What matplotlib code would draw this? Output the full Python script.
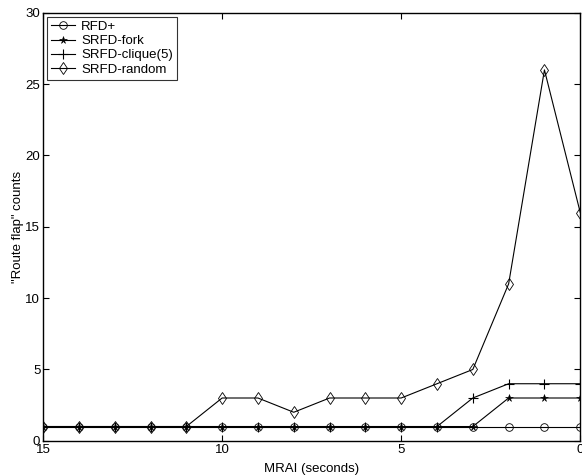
import matplotlib
matplotlib.use("Agg")
import matplotlib.pyplot as plt

plt.rcParams['font.family'] = ['Liberation Sans', 'DejaVu Sans']

# MRAI values (seconds)
mrai = [15, 14, 13, 12, 11, 10, 9, 8, 7, 6, 5, 4, 3, 2, 1, 0]
rfd_plus = [1, 1, 1, 1, 1, 1, 1, 1, 1, 1, 1, 1, 1, 1, 1, 1]
srfd_fork = [1, 1, 1, 1, 1, 1, 1, 1, 1, 1, 1, 1, 1, 3, 3, 3]
srfd_clique = [1, 1, 1, 1, 1, 1, 1, 1, 1, 1, 1, 1, 3, 4, 4, 4]
srfd_random = [1, 1, 1, 1, 1, 3, 3, 2, 3, 3, 3, 4, 5, 11, 26, 16]

x_ticks = [15, 10, 5, 0]
y_ticks = [0, 5, 10, 15, 20, 25, 30]

fig = plt.figure(figsize=(5.82, 4.75), dpi=100)
ax = fig.add_axes([0.074, 0.072, 0.923, 0.901])

ax.plot(mrai, rfd_plus, color='black', lw=0.8, marker='o', ms=5.5,
        mfc='none', mec='black', mew=0.6, label='RFD+')
ax.plot(mrai, srfd_fork, color='black', lw=0.8, marker='*', ms=5.5,
        mfc='black', mec='black', mew=0.4, label='SRFD-fork')
ax.plot(mrai, srfd_clique, color='black', lw=0.8, marker='+', ms=7,
        mec='black', mew=0.8, label='SRFD-clique(5)')
ax.plot(mrai, srfd_random, color='black', lw=0.8, marker='d', ms=6,
        mfc='none', mec='black', mew=0.6, label='SRFD-random')

ax.set_xlim(15, 0)
ax.set_ylim(0, 30)
ax.set_xticks(x_ticks)
ax.set_yticks(y_ticks)
ax.tick_params(direction='in', top=True, right=True, length=4, width=0.8,
               labelsize=9.5, pad=2)
for s in ax.spines.values():
    s.set_linewidth(1.0)

ax.set_xlabel('MRAI (seconds)', fontsize=9.5, labelpad=5)
ax.set_ylabel('"Route flap" counts', fontsize=9.5, labelpad=1)

leg = ax.legend(loc='upper left', fontsize=9.5, frameon=True, fancybox=False,
                handlelength=1.8, handletextpad=0.5, borderpad=0.3,
                labelspacing=0.15, borderaxespad=0.3)
leg.get_frame().set_edgecolor('black')
leg.get_frame().set_linewidth(0.8)

fig.savefig('out.png', dpi=100)
